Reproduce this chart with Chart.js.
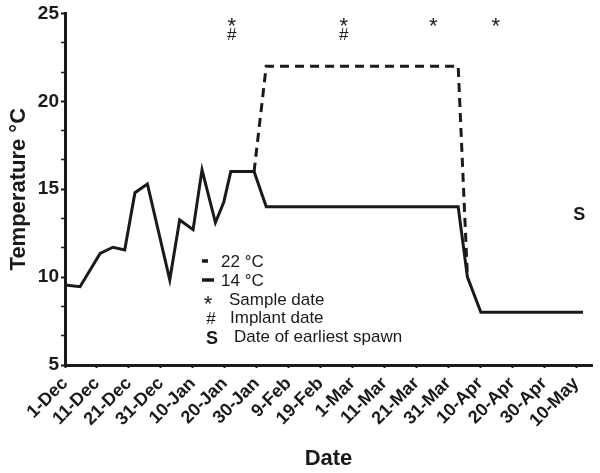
<!DOCTYPE html>
<html>
<head>
<meta charset="utf-8">
<script src="https://cdn.jsdelivr.net/npm/chart.js@4.4.0/dist/chart.umd.min.js"></script>
<style>
  html, body { margin: 0; padding: 0; background: #fff; }
  #wrap { width: 600px; height: 473px; }
</style>
</head>
<body>
<div id="wrap"><canvas id="tempchart"></canvas></div>
<script>
// days since 1-Dec
let tickDays = [0, 10, 20, 30, 40, 50, 60, 70, 80, 90, 100, 110, 120, 130, 140, 150, 160];
let tickLbls = ['1-Dec', '11-Dec', '21-Dec', '31-Dec', '10-Jan', '20-Jan', '30-Jan', '9-Feb', '19-Feb',
    '1-Mar', '11-Mar', '21-Mar', '31-Mar', '10-Apr', '20-Apr', '30-Apr', '10-May'];
let yTicks = [5, 10, 15, 20, 25];

// 14 C group (solid)
let days14 = [0, 4.7, 11, 15, 18.7, 21.9, 25.8, 32.8, 35.9, 40.1, 42.9, 47.1, 49.7, 51.9, 59.2, 63, 123.1, 126, 130.2, 162.2];
let temp14 = [9.55, 9.45, 11.35, 11.7, 11.55, 14.8, 15.3, 9.85, 13.25, 12.7, 16.1, 13.1, 14.25, 16, 16, 14, 14, 10, 8, 8];

// 22 C group (dashed)
let days22 = [59.2, 63, 123.1, 126];
let temp22 = [16, 22, 22, 10];

// markers
let sampleDays = [52.2, 87.3, 115.3, 134.9];
let sampleY = 24.5;
let implantDays = [52.2, 87.3];
let implantY = 23.8;
let spawnDays = [161];
let spawnY = 13.6;

const ink = '#1a1a1a';
const fam = '"Liberation Sans", Arial, sans-serif';

function pts(xs, ys) {
    return xs.map((x, i) => ({ x: x, y: ys[i] }));
}

function centerText(c, txt, x, y) {
    let m = c.measureText(txt);
    c.textBaseline = 'alphabetic';
    c.fillText(txt, x, y + (m.actualBoundingBoxAscent - m.actualBoundingBoxDescent) / 2);
}

const markers = {
    id: 'markers',
    afterDatasetsDraw(chart) {
        let c = chart.ctx;
        let xs = chart.scales.x;
        let ys = chart.scales.y;
        c.save();
        c.fillStyle = ink;
        c.textAlign = 'center';
        c.font = '22px ' + fam;
        sampleDays.forEach(d => centerText(c, '*', xs.getPixelForValue(d), ys.getPixelForValue(sampleY)));
        c.font = '17px ' + fam;
        implantDays.forEach(d => centerText(c, '#', xs.getPixelForValue(d), ys.getPixelForValue(implantY)));
        c.font = 'bold 18px ' + fam;
        spawnDays.forEach(d => centerText(c, 'S', xs.getPixelForValue(d), ys.getPixelForValue(spawnY)));

        // legend
        let L = chart.chartArea.left;
        c.lineWidth = 3.5;
        c.strokeStyle = ink;
        c.beginPath();
        c.moveTo(L + 137, 261); c.lineTo(L + 143, 261);
        c.moveTo(L + 137, 280); c.lineTo(L + 149, 280);
        c.stroke();
        c.textAlign = 'center';
        c.font = '22px ' + fam;
        centerText(c, '*', L + 143, 300);
        c.font = '17px ' + fam;
        centerText(c, '#', L + 146, 318);
        c.font = 'bold 18px ' + fam;
        centerText(c, 'S', L + 147, 337);
        c.textAlign = 'left';
        c.font = '17px ' + fam;
        centerText(c, '22 °C', L + 156, 261);
        centerText(c, '14 °C', L + 156, 280);
        centerText(c, 'Sample date', L + 164, 300);
        centerText(c, 'Implant date', L + 165, 318);
        centerText(c, 'Date of earliest spawn', L + 169, 337);
        c.restore();
    }
};

var ctx = document.getElementById('tempchart');
var tempchart = new Chart(ctx, {
    type: 'line',
    data: {
        datasets: [{
            label: '22 °C',
            data: pts(days22, temp22),
            borderColor: ink,
            borderWidth: 3,
            borderDash: [9, 6],
            pointRadius: 0,
            tension: 0,
            fill: false
        }, {
            label: '14 °C',
            data: pts(days14, temp14),
            borderColor: ink,
            borderWidth: 3,
            pointRadius: 0,
            tension: 0,
            fill: false
        }]
    },
    options: {
        responsive: true,
        maintainAspectRatio: false,
        animation: false,
        layout: {
            padding: { left: 0, right: 8, top: 13, bottom: 0 }
        },
        scales: {
            x: {
                type: 'linear',
                min: 0,
                max: 165,
                afterBuildTicks: scale => {
                    scale.ticks = tickDays.map(v => ({ value: v }));
                },
                afterFit: scale => {
                    scale.height = 108;
                },
                ticks: {
                    autoSkip: false,
                    maxRotation: 45,
                    minRotation: 45,
                    padding: 5,
                    color: ink,
                    font: { family: fam, size: 18, weight: 'bold' },
                    callback: function (v) {
                        let i = tickDays.indexOf(v);
                        return i >= 0 ? tickLbls[i] : '';
                    }
                },
                grid: {
                    drawOnChartArea: false,
                    drawTicks: true,
                    tickLength: 3,
                    tickWidth: 2,
                    tickColor: ink
                },
                border: { display: true, color: ink, width: 3 },
                title: {
                    display: true,
                    text: 'Date',
                    color: ink,
                    font: { family: fam, size: 22, weight: 'bold' },
                    padding: { top: 0, bottom: 1 }
                }
            },
            y: {
                min: 5,
                max: 25,
                afterBuildTicks: scale => {
                    let t = [];
                    for (let i = 0; i <= 12; i++) t.push({ value: 5 + i * 5 / 3 });
                    scale.ticks = t;
                },
                afterFit: scale => {
                    scale.width = 65;
                },
                ticks: {
                    autoSkip: false,
                    padding: 2,
                    color: ink,
                    font: { family: fam, size: 19, weight: 'bold' },
                    callback: function (v) {
                        let r = Math.round(v);
                        return (Math.abs(v - r) < 1e-6 && yTicks.includes(r)) ? String(r) : '';
                    }
                },
                grid: {
                    drawOnChartArea: false,
                    drawTicks: true,
                    tickLength: 4,
                    tickWidth: c => (c.tick && c.tick.label !== '' ? 2 : 1.5),
                    tickColor: ink
                },
                border: { display: true, color: ink, width: 3 },
                title: {
                    display: true,
                    text: 'Temperature °C',
                    color: ink,
                    font: { family: fam, size: 22, weight: 'bold' },
                    padding: { top: 6, bottom: 0 }
                }
            }
        },
        plugins: {
            legend: { display: false },
            tooltip: { enabled: false }
        }
    },
    plugins: [markers]
});
</script>
</body>
</html>
